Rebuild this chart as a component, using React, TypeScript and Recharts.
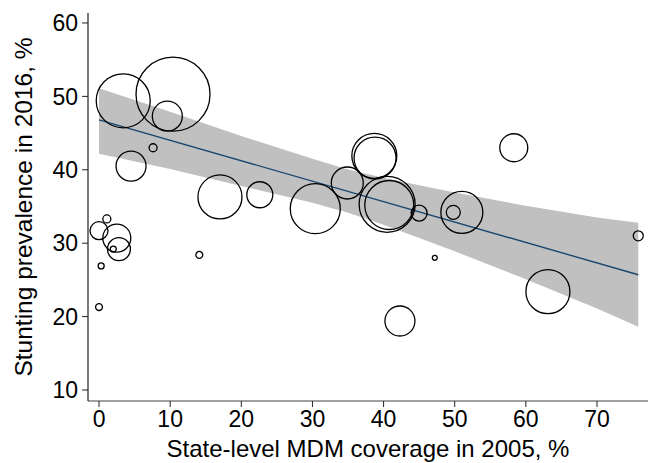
import { Area, ComposedChart, Line, Scatter, XAxis, YAxis, ZAxis } from "recharts"

// state-level points: MDM coverage 2005 (%), stunting 2016 (%), weight
const coverage = [3.4, 10.4, 9.6, 7.6, 4.5, 17.0, 22.6, 30.4, 1.1, 0, 2.5, 2.8, 2.0, 0.3, 0, 14.1, 34.9, 38.7, 38.8, 40.5, 40.8, 45.0, 51.0, 49.8, 58.3, 75.8, 47.2, 63.1, 42.3]
const stunting = [49.4, 50.3, 47.3, 43.0, 40.5, 36.3, 36.6, 34.7, 33.3, 31.7, 30.7, 29.2, 29.2, 26.9, 21.3, 28.4, 38.2, 41.9, 41.6, 35.3, 35.2, 34.1, 34.2, 34.2, 43.0, 31.0, 28.0, 23.4, 19.4]
const weight = [729, 1369, 225, 16, 225, 484, 169, 625, 16, 81, 196, 132, 9, 9, 12, 12, 256, 506, 441, 784, 600, 64, 441, 49, 196, 25, 6, 484, 225]

// fitted line and 95% CI
const fitX = [0, 75.8]
const fitY = [46.8, 25.7]
const ciX = [0, 10, 20, 30, 35, 40, 45, 50, 60, 70, 75.8]
const ciLow = [42.2, 40.1, 37.8, 35.5, 34.15, 32.5, 30.7, 28.9, 25.1, 21.1, 18.6]
const ciHigh = [51.1, 47.9, 44.6, 41.5, 40.05, 38.9, 37.9, 36.9, 35.1, 33.5, 32.8]

const xTicks = [0, 10, 20, 30, 40, 50, 60, 70]
const yTicks = [10, 20, 30, 40, 50, 60]

const points = coverage.map((x, i) => ({ x, y: stunting[i], z: weight[i] }))
const fit = fitX.map((x, i) => ({ x, fit: fitY[i] }))
const band = ciX.map((x, i) => ({ x, ci: [ciLow[i], ciHigh[i]] }))

const MAX_W = 1369
const font = "'Liberation Sans', Arial, Helvetica, sans-serif"

export default function App() {
  return (
    <div style={{ position: "absolute", left: 0, top: 0, background: "#fff" }}>
      <ComposedChart
        width={648}
        height={463}
        margin={{ top: 13, right: 0, bottom: 0, left: 0 }}
        style={{ fontFamily: font }}
      >
        <XAxis
          dataKey="x"
          type="number"
          domain={[-1.55, 77.17]}
          ticks={xTicks}
          height={62}
          axisLine={{ stroke: "#808080", strokeWidth: 1.5 }}
          tickLine={{ stroke: "#222" }}
          tickSize={6}
          tickMargin={4}
          tick={{ fontSize: 23, fill: "#000" }}
          label={{ value: "State-level MDM coverage in 2005, %", position: "insideBottom", offset: 6, fontSize: 24, fill: "#000" }}
        />
        <YAxis
          dataKey="y"
          type="number"
          domain={[8.5, 61.36]}
          ticks={yTicks}
          width={88}
          axisLine={{ stroke: "#222", strokeWidth: 1.2 }}
          tickLine={{ stroke: "#222" }}
          tickSize={6}
          tickMargin={4}
          tick={{ fontSize: 23, fill: "#000" }}
          label={{
            value: "Stunting prevalence in 2016, %",
            angle: -90,
            position: "insideLeft",
            offset: 23,
            fontSize: 24.5,
            fill: "#000",
            style: { textAnchor: "middle" },
          }}
        />
        <ZAxis dataKey="z" type="number" domain={[0, MAX_W]} range={[0, MAX_W * Math.PI]} />
        <Area
          data={band}
          dataKey="ci"
          type="linear"
          stroke="none"
          fill="#c0c0c0"
          fillOpacity={1}
          isAnimationActive={false}
        />
        <Scatter data={points} fill="none" stroke="#000" strokeWidth={1.3} isAnimationActive={false} />
        <Line
          data={fit}
          dataKey="fit"
          type="linear"
          stroke="#1a476f"
          strokeWidth={1.4}
          dot={false}
          isAnimationActive={false}
        />
      </ComposedChart>
    </div>
  )
}
